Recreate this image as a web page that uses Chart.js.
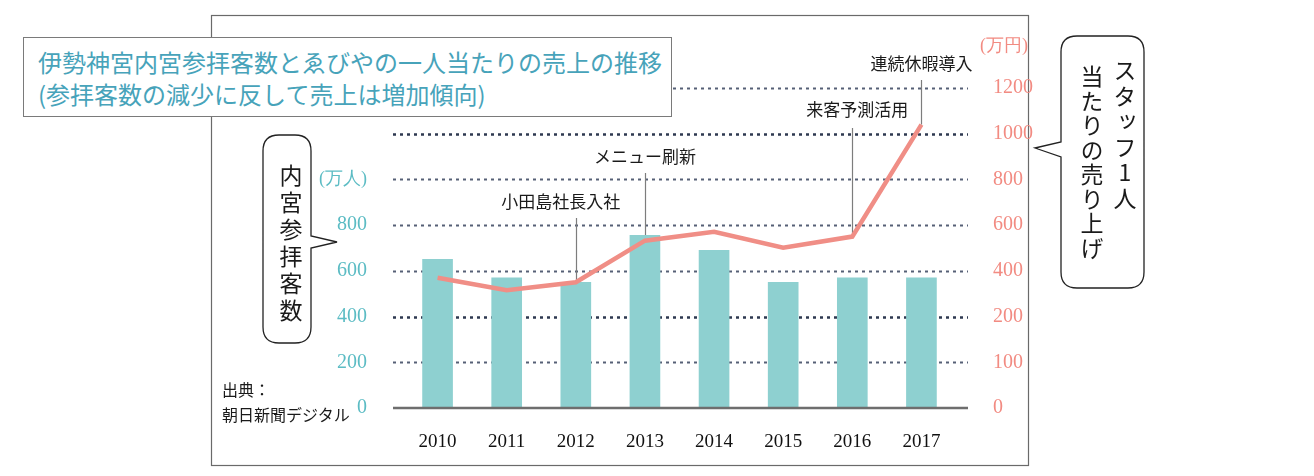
<!DOCTYPE html>
<html lang="ja">
<head>
<meta charset="utf-8">
<title>伊勢神宮内宮参拝客数とゑびやの一人当たりの売上の推移</title>
<script src="https://cdn.jsdelivr.net/npm/chart.js@4.4.1/dist/chart.umd.min.js"></script>
<style>
  html, body { margin: 0; padding: 0; background: #fff; }
  #wrap { position: relative; width: 1314px; height: 476px; overflow: hidden; font-family: "Noto Sans CJK JP", sans-serif; }
  #frame, #bubbles { position: absolute; left: 0; top: 0; }
  #chartBox { position: absolute; left: 0; top: 0; width: 1314px; height: 476px; }
  .title {
    position: absolute; left: 23px; top: 37px; width: 649px; height: 80px; box-sizing: border-box;
    border: 1.5px solid #7a7a7a; background: #fff; color: #47a3ba;
    font-size: 24px; line-height: 31.5px; padding: 8px 0 0 14px; white-space: nowrap;
  }
  .vtext { position: absolute; writing-mode: vertical-rl; text-orientation: upright; color: #1a1a1a; white-space: nowrap; }
  .note { position: absolute; color: #1a1a1a; font-size: 16px; line-height: 20px; white-space: nowrap; }
  .unit { position: absolute; color: #f28b82; font-family: "Liberation Serif", serif; font-size: 18px; white-space: nowrap; }
</style>
</head>
<body>
<div id="wrap">
  <svg id="frame" width="1314" height="476">
    <rect x="211.5" y="15.5" width="817" height="450" fill="none" stroke="#6a6a6a" stroke-width="1.2"/>
  </svg>
  <div id="chartBox"><canvas id="chart"></canvas></div>
  <svg id="bubbles" width="1314" height="476">
    <path d="M279 135 H295 Q311 135 311 151 V236 L337 242 L311 248 V327 Q311 343 295 343 H279 Q263 343 263 327 V151 Q263 135 279 135 Z"
          fill="#fff" stroke="#222" stroke-width="1.3"/>
    <path d="M1077 36 H1128 Q1144 36 1144 52 V272 Q1144 288 1128 288 H1077 Q1061 288 1061 272 V157 L1035 148 L1061 142 V52 Q1061 36 1077 36 Z"
          fill="#fff" stroke="#222" stroke-width="1.3"/>
  </svg>
  <div class="title">伊勢神宮内宮参拝客数とゑびやの一人当たりの売上の推移<br>(参拝客数の減少に反して売上は増加傾向)</div>
  <div class="vtext" style="left:274px; top:164px; font-size:23px; letter-spacing:4px;">内宮参拝客数</div>
  <div class="vtext" style="left:1108px; top:59px; font-size:23px; letter-spacing:2.5px;">スタッフ1人</div>
  <div class="vtext" style="left:1075px; top:65px; font-size:23px; letter-spacing:1.5px;">当たりの売り上げ</div>
  <div class="unit" style="left:980px; top:33px;">(万円)</div>
  <div class="note" style="left:222px; top:379px;">出典：</div>
  <div class="note" style="left:222px; top:404px;">朝日新聞デジタル</div>
</div>

<script>
"use strict";

// 年
const years = ["2010", "2011", "2012", "2013", "2014", "2015", "2016", "2017"];
// 内宮参拝客数（万人）
const visitors = [650, 570, 550, 755, 690, 550, 570, 570];
// スタッフ1人当たりの売り上げ（万円）
const salesPerStaff = [370, 315, 350, 532, 571, 501, 550, 1040];

// 目盛り
const visitorTicks = [0, 200, 400, 600, 800];
const salesTicks = [0, 100, 200, 400, 600, 800, 1000, 1200];

// 出来事
const events = ["小田島社長入社", "メニュー刷新", "来客予測活用", "連続休暇導入"];
const eventYears = ["2012", "2013", "2016", "2017"];

const teal = "#5cbcc4";
const salmon = "#f28b82";

// 右軸は目盛りの間隔が均等ではない（0,100,200,400...）ので区間ごとに割り当てる
class StepScale extends Chart.LinearScale {
  buildTicks() {
    return salesTicks.map(v => ({ value: v }));
  }
  getPixelForValue(value) {
    const n = salesTicks.length - 1;
    let i = 0;
    while (i < n - 1 && value > salesTicks[i + 1]) i++;
    const frac = (value - salesTicks[i]) / (salesTicks[i + 1] - salesTicks[i]);
    return this.getPixelForDecimal((i + frac) / n);
  }
  getValueForPixel(pixel) {
    const n = salesTicks.length - 1;
    const d = this.getDecimalForPixel(pixel) * n;
    const i = Math.max(0, Math.min(n - 1, Math.floor(d)));
    return salesTicks[i] + (d - i) * (salesTicks[i + 1] - salesTicks[i]);
  }
}
StepScale.id = "step";
StepScale.defaults = {};
Chart.register(StepScale);

// 点線の補助線・引き出し線・注記
const eventLayout = [
  { dx: -15, textY: 202, top: 218 },
  { dx: 0, textY: 157, top: 173 },
  { dx: 5, textY: 110, top: 128 },
  { dx: 0, textY: 64, top: 80 }
];

const decorPlugin = {
  id: "decor",
  beforeDatasetsDraw(chart) {
    const { ctx, chartArea, scales } = chart;
    const y = scales.y;
    ctx.save();
    y.ticks.forEach(t => {
      if (t.value === 0) return;
      const py = Math.round(y.getPixelForValue(t.value)) + 0.5;
      const strong = t.value === 400 || t.value === 1200;
      ctx.strokeStyle = strong ? "#2e3950" : "#566076";
      ctx.lineWidth = strong ? 2.6 : 2;
      ctx.setLineDash([3, 4]);
      ctx.beginPath();
      ctx.moveTo(chartArea.left - 10, py);
      ctx.lineTo(chartArea.right + 12, py);
      ctx.stroke();
    });

    // 引き出し線
    const meta = chart.getDatasetMeta(1);
    ctx.setLineDash([]);
    ctx.strokeStyle = "#7d7d7d";
    ctx.lineWidth = 1.2;
    eventYears.forEach((yr, k) => {
      const pt = meta.data[years.indexOf(yr)];
      const x = Math.round(pt.x) + 0.5;
      ctx.beginPath();
      ctx.moveTo(x, eventLayout[k].top);
      ctx.lineTo(x, pt.y);
      ctx.stroke();
    });
    ctx.restore();
  },
  afterDatasetsDraw(chart) {
    const { ctx, chartArea, scales } = chart;
    const y0 = scales.y.getPixelForValue(0);
    ctx.save();
    ctx.strokeStyle = "#6e6e6e";
    ctx.lineWidth = 2.5;
    ctx.beginPath();
    ctx.moveTo(chartArea.left - 10, y0);
    ctx.lineTo(chartArea.right + 12, y0);
    ctx.stroke();

    const meta = chart.getDatasetMeta(1);
    ctx.fillStyle = "#1a1a1a";
    ctx.font = '17px "Noto Sans CJK JP"';
    ctx.textAlign = "center";
    ctx.textBaseline = "middle";
    events.forEach((txt, k) => {
      const pt = meta.data[years.indexOf(eventYears[k])];
      ctx.fillText(txt, pt.x + eventLayout[k].dx, eventLayout[k].textY);
    });
    ctx.restore();
  }
};

const ctx = document.getElementById("chart").getContext("2d");

new Chart(ctx, {
  data: {
    labels: years,
    datasets: [
      {
        type: "bar",
        label: "内宮参拝客数",
        data: visitors,
        yAxisID: "y",
        backgroundColor: "#8ed0d0",
        barThickness: 30,
        order: 1
      },
      {
        type: "line",
        label: "スタッフ1人当たりの売り上げ",
        data: salesPerStaff,
        yAxisID: "y1",
        borderColor: "#f08e86",
        borderWidth: 4.5,
        pointRadius: 0,
        tension: 0,
        order: 0
      }
    ]
  },
  options: {
    responsive: true,
    maintainAspectRatio: false,
    animation: false,
    layout: { padding: { top: 88, bottom: 0, left: 0, right: 0 } },
    plugins: {
      legend: { display: false },
      tooltip: { enabled: false },
      title: { display: false }
    },
    scales: {
      x: {
        type: "category",
        offset: true,
        grid: { display: false },
        border: { display: false },
        ticks: {
          color: "#111",
          font: { family: "Liberation Serif", size: 19 },
          padding: 15,
          maxRotation: 0
        },
        afterFit: s => { s.width = s.width; s.height = 68; }
      },
      y: {
        type: "linear",
        position: "left",
        min: 0,
        max: 1400,
        grid: { display: false },
        border: { display: false },
        ticks: {
          stepSize: 200,
          color: teal,
          padding: 28,
          font: c => ({ family: "Liberation Serif", size: c.tick && c.tick.value === 1000 ? 18 : 20 }),
          callback: v => visitorTicks.includes(v) ? String(v) : (v === 1000 ? "(万人)" : "")
        },
        afterFit: s => { s.width = 403; }
      },
      y1: {
        type: "step",
        position: "right",
        min: 0,
        max: 1200,
        grid: { display: false },
        border: { display: false },
        ticks: {
          color: salmon,
          padding: 29,
          font: { family: "Liberation Serif", size: 20 },
          callback: v => String(v)
        },
        afterFit: s => { s.width = 358; }
      }
    }
  },
  plugins: [decorPlugin]
});
</script>
</body>
</html>
